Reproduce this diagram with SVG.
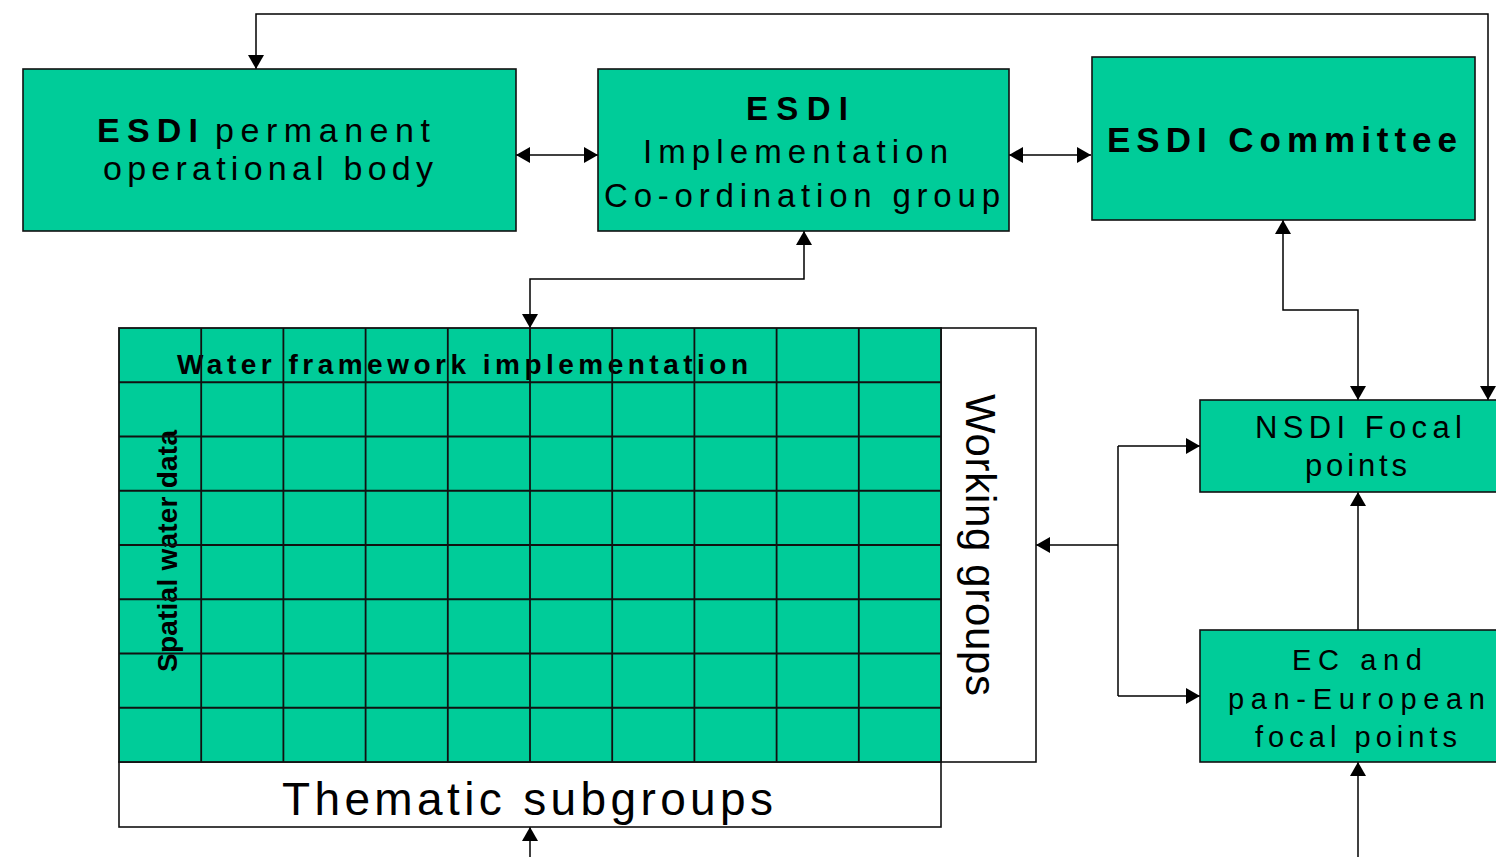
<svg xmlns="http://www.w3.org/2000/svg" width="1496" height="857" viewBox="0 0 1496 857">
<style>
.box{fill:#00CC99;stroke:#111;stroke-width:1.6}
.wbox{fill:#fff;stroke:#111;stroke-width:1.6}
.grid{stroke:#111;stroke-width:1.8;fill:none}
.conn{stroke:#000;stroke-width:1.5;fill:none}
text{font-family:"Liberation Sans",Arial,sans-serif;fill:#000}
.n{font-family:"Liberation Sans Narrow","Liberation Sans",Arial,sans-serif}
.b{font-weight:bold}
</style>
<defs>
<marker id="ae" markerUnits="userSpaceOnUse" markerWidth="14" markerHeight="16" refX="14" refY="8" orient="auto" viewBox="0 0 14 16"><path d="M0,0 L14,8 L0,16 z" fill="#000"/></marker>
<marker id="as" markerUnits="userSpaceOnUse" markerWidth="14" markerHeight="16" refX="0" refY="8" orient="auto" viewBox="0 0 14 16"><path d="M14,0 L0,8 L14,16 z" fill="#000"/></marker>
</defs>

<g id="connectors">
<path class="conn" d="M1488,400 V14 H256 V69" marker-start="url(#as)" marker-end="url(#ae)"/>
<path class="conn" d="M516,155 H598" marker-start="url(#as)" marker-end="url(#ae)"/>
<path class="conn" d="M1009,155 H1091" marker-start="url(#as)" marker-end="url(#ae)"/>
<path class="conn" d="M804,231 V279 H530 V328" marker-start="url(#as)" marker-end="url(#ae)"/>
<path class="conn" d="M1283,220 V310 H1358 V400" marker-start="url(#as)" marker-end="url(#ae)"/>
<path class="conn" d="M1118,545 H1036" marker-end="url(#ae)"/>
<path class="conn" d="M1118,446 V696"/>
<path class="conn" d="M1118,446 H1200" marker-end="url(#ae)"/>
<path class="conn" d="M1118,696 H1200" marker-end="url(#ae)"/>
<path class="conn" d="M1358,630 V492" marker-end="url(#ae)"/>
<path class="conn" d="M1358,857 V762" marker-end="url(#ae)"/>
<path class="conn" d="M530,857 V827" marker-end="url(#ae)"/>
</g>

<g id="permanent-body">
<rect class="box" x="23" y="69" width="493" height="162"/>
<text class="n b" x="97" y="142" font-size="34" textLength="101" lengthAdjust="spacing">ESDI</text>
<text class="n" x="215" y="142" font-size="34" textLength="215" lengthAdjust="spacing">permanent</text>
<text class="n" x="103" y="180" font-size="34" textLength="330" lengthAdjust="spacing">operational body</text>
</g>

<g id="coordination-group">
<rect class="box" x="598" y="69" width="411" height="162"/>
<text class="n b" x="746" y="120" font-size="33" textLength="102" lengthAdjust="spacing">ESDI</text>
<text class="n" x="643" y="163" font-size="33" textLength="305" lengthAdjust="spacing">Implementation</text>
<text class="n" x="604" y="207" font-size="33" textLength="396" lengthAdjust="spacing">Co-ordination group</text>
</g>

<g id="committee">
<rect class="box" x="1092" y="57" width="383" height="163"/>
<text class="n b" x="1107" y="152" font-size="35" textLength="350" lengthAdjust="spacing">ESDI Committee</text>
</g>

<g id="nsdi">
<rect class="box" x="1200" y="400" width="300" height="92"/>
<text x="1255" y="438" font-size="31" textLength="207" lengthAdjust="spacing">NSDI Focal</text>
<text x="1305" y="476" font-size="31" textLength="102" lengthAdjust="spacing">points</text>
</g>

<g id="ec-focal">
<rect class="box" x="1200" y="630" width="300" height="132"/>
<text x="1292" y="670" font-size="29" textLength="130" lengthAdjust="spacing">EC and</text>
<text x="1228" y="709" font-size="29" textLength="257" lengthAdjust="spacing">pan-European</text>
<text x="1255" y="747" font-size="29" textLength="202" lengthAdjust="spacing">focal points</text>
</g>

<g id="working-groups">
<rect class="wbox" x="941" y="328" width="95" height="434"/>
<text transform="translate(966,545) rotate(90)" text-anchor="middle" font-size="42" textLength="302" lengthAdjust="spacing">Working groups</text>
</g>

<g id="thematic-subgroups">
<rect class="wbox" x="119" y="762" width="822" height="65"/>
<text class="n" x="282" y="815" font-size="46" textLength="491" lengthAdjust="spacing">Thematic subgroups</text>
</g>

<g id="water-grid">
<rect x="119" y="328" width="822" height="434" fill="#00CC99"/>
<text class="b" x="177" y="374" font-size="28" textLength="571" lengthAdjust="spacing">Water framework implementation</text>
<text class="b" transform="translate(177,551) rotate(-90)" text-anchor="middle" font-size="28" textLength="242" lengthAdjust="spacing">Spatial water data</text>
<path class="grid" d="M201.2,328V762 M283.4,328V762 M365.6,328V762 M447.8,328V762 M530,328V762 M612.2,328V762 M694.4,328V762 M776.6,328V762 M858.8,328V762 M119,382.25H941 M119,436.5H941 M119,490.75H941 M119,545H941 M119,599.25H941 M119,653.5H941 M119,707.75H941"/>
<rect class="grid" x="119" y="328" width="822" height="434"/>
</g>
</svg>
